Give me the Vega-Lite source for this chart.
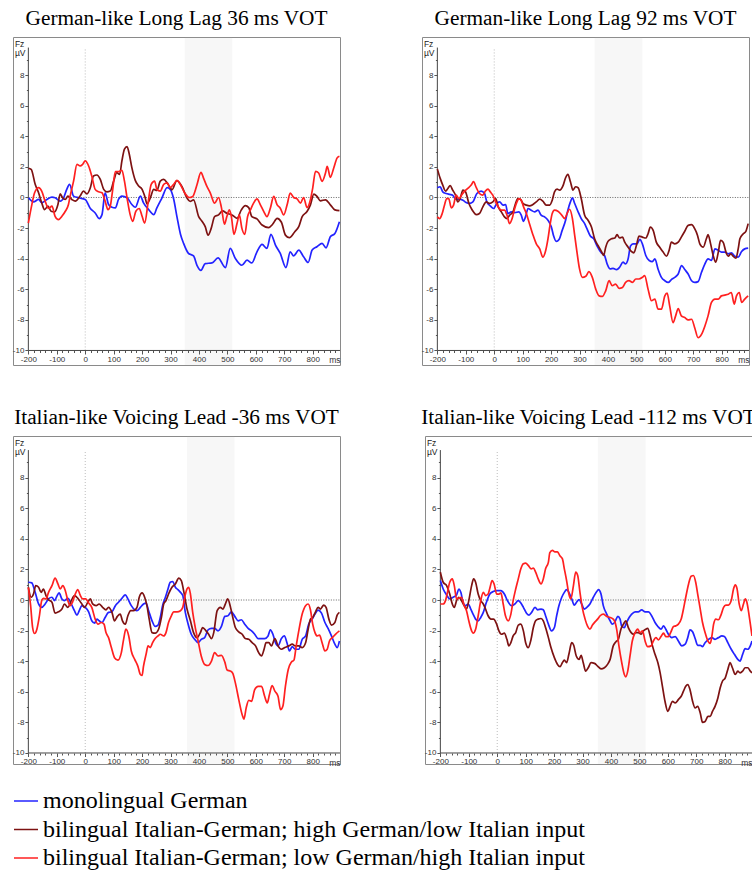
{
"$schema": "https://vega.github.io/schema/vega-lite/v6.json",
"usermeta": {"embedOptions": {"actions": false}},
"padding": {"left": 11, "top": 7, "right": 0, "bottom": 0},
"data": {"values": [
{"p":1,"g":"m","t":-200,"v":0},{"p":1,"g":"m","t":-182,"v":-0.29},{"p":1,"g":"m","t":-164,"v":-0.13},{"p":1,"g":"m","t":-153,"v":-0.35},{"p":1,"g":"m","t":-135,"v":-0.13},{"p":1,"g":"m","t":-117,"v":0.02},{"p":1,"g":"m","t":-106,"v":-0.02},{"p":1,"g":"m","t":-88,"v":-0.24},{"p":1,"g":"m","t":-76,"v":-0.02},{"p":1,"g":"m","t":-65,"v":0.53},{"p":1,"g":"m","t":-55,"v":0.86},{"p":1,"g":"m","t":-41,"v":0.09},{"p":1,"g":"m","t":-23,"v":-0.02},{"p":1,"g":"m","t":0,"v":-0.13},{"p":1,"g":"m","t":18,"v":-0.72},{"p":1,"g":"m","t":35,"v":-1.01},{"p":1,"g":"m","t":49,"v":-1.38},{"p":1,"g":"m","t":59,"v":-1.12},{"p":1,"g":"m","t":70,"v":0.31},{"p":1,"g":"m","t":82,"v":-0.46},{"p":1,"g":"m","t":94,"v":-0.64},{"p":1,"g":"m","t":106,"v":-0.68},{"p":1,"g":"m","t":117,"v":-0.13},{"p":1,"g":"m","t":129,"v":0.09},{"p":1,"g":"m","t":147,"v":-0.02},{"p":1,"g":"m","t":164,"v":-0.46},{"p":1,"g":"m","t":176,"v":-0.64},{"p":1,"g":"m","t":194,"v":0.09},{"p":1,"g":"m","t":205,"v":-0.35},{"p":1,"g":"m","t":223,"v":-0.79},{"p":1,"g":"m","t":241,"v":-1.12},{"p":1,"g":"m","t":252,"v":-0.68},{"p":1,"g":"m","t":270,"v":-0.02},{"p":1,"g":"m","t":288,"v":0.64},{"p":1,"g":"m","t":299,"v":0.53},{"p":1,"g":"m","t":311,"v":-0.1},{"p":1,"g":"m","t":323,"v":-1.3},{"p":1,"g":"m","t":335,"v":-2.4},{"p":1,"g":"m","t":346,"v":-3.0},{"p":1,"g":"m","t":363,"v":-3.65},{"p":1,"g":"m","t":381,"v":-3.82},{"p":1,"g":"m","t":393,"v":-4.43},{"p":1,"g":"m","t":407,"v":-4.76},{"p":1,"g":"m","t":422,"v":-4.32},{"p":1,"g":"m","t":446,"v":-4.28},{"p":1,"g":"m","t":467,"v":-3.95},{"p":1,"g":"m","t":493,"v":-4.58},{"p":1,"g":"m","t":510,"v":-3.33},{"p":1,"g":"m","t":528,"v":-3.99},{"p":1,"g":"m","t":551,"v":-4.43},{"p":1,"g":"m","t":569,"v":-4.1},{"p":1,"g":"m","t":586,"v":-4.28},{"p":1,"g":"m","t":604,"v":-3.55},{"p":1,"g":"m","t":622,"v":-3.07},{"p":1,"g":"m","t":639,"v":-3.33},{"p":1,"g":"m","t":653,"v":-2.41},{"p":1,"g":"m","t":669,"v":-3.11},{"p":1,"g":"m","t":686,"v":-3.66},{"p":1,"g":"m","t":706,"v":-4.58},{"p":1,"g":"m","t":721,"v":-3.55},{"p":1,"g":"m","t":733,"v":-3.82},{"p":1,"g":"m","t":751,"v":-3.44},{"p":1,"g":"m","t":768,"v":-3.88},{"p":1,"g":"m","t":784,"v":-4.25},{"p":1,"g":"m","t":798,"v":-3.44},{"p":1,"g":"m","t":815,"v":-3.22},{"p":1,"g":"m","t":833,"v":-3.0},{"p":1,"g":"m","t":847,"v":-3.29},{"p":1,"g":"m","t":862,"v":-2.57},{"p":1,"g":"m","t":878,"v":-2.35},{"p":1,"g":"m","t":894,"v":-1.58},
{"p":1,"g":"h","t":-200,"v":1.91},{"p":1,"g":"h","t":-190,"v":1.84},{"p":1,"g":"h","t":-176,"v":0.86},{"p":1,"g":"h","t":-164,"v":0.31},{"p":1,"g":"h","t":-153,"v":-0.35},{"p":1,"g":"h","t":-143,"v":-0.79},{"p":1,"g":"h","t":-131,"v":-0.57},{"p":1,"g":"h","t":-120,"v":-0.9},{"p":1,"g":"h","t":-108,"v":-0.94},{"p":1,"g":"h","t":-96,"v":-0.46},{"p":1,"g":"h","t":-88,"v":0.24},{"p":1,"g":"h","t":-80,"v":-0.02},{"p":1,"g":"h","t":-70,"v":-0.13},{"p":1,"g":"h","t":-61,"v":0.09},{"p":1,"g":"h","t":-47,"v":-0.13},{"p":1,"g":"h","t":-35,"v":-0.24},{"p":1,"g":"h","t":-18,"v":0.09},{"p":1,"g":"h","t":-6,"v":0.42},{"p":1,"g":"h","t":6,"v":0.24},{"p":1,"g":"h","t":18,"v":0.64},{"p":1,"g":"h","t":29,"v":1.4},{"p":1,"g":"h","t":41,"v":1.47},{"p":1,"g":"h","t":53,"v":1.18},{"p":1,"g":"h","t":65,"v":0.53},{"p":1,"g":"h","t":76,"v":0.37},{"p":1,"g":"h","t":88,"v":0.42},{"p":1,"g":"h","t":100,"v":1.07},{"p":1,"g":"h","t":111,"v":1.62},{"p":1,"g":"h","t":121,"v":1.51},{"p":1,"g":"h","t":129,"v":2.39},{"p":1,"g":"h","t":138,"v":3.16},{"p":1,"g":"h","t":147,"v":3.33},{"p":1,"g":"h","t":155,"v":2.83},{"p":1,"g":"h","t":164,"v":1.95},{"p":1,"g":"h","t":176,"v":1.12},{"p":1,"g":"h","t":188,"v":0.75},{"p":1,"g":"h","t":200,"v":0.53},{"p":1,"g":"h","t":211,"v":-0.02},{"p":1,"g":"h","t":217,"v":-0.42},{"p":1,"g":"h","t":229,"v":-0.02},{"p":1,"g":"h","t":241,"v":0.53},{"p":1,"g":"h","t":252,"v":0.46},{"p":1,"g":"h","t":264,"v":1.07},{"p":1,"g":"h","t":276,"v":1.18},{"p":1,"g":"h","t":288,"v":0.96},{"p":1,"g":"h","t":299,"v":0.64},{"p":1,"g":"h","t":305,"v":0.5},{"p":1,"g":"h","t":322,"v":1.1},{"p":1,"g":"h","t":340,"v":0.72},{"p":1,"g":"h","t":358,"v":-0.04},{"p":1,"g":"h","t":369,"v":-0.26},{"p":1,"g":"h","t":381,"v":-0.15},{"p":1,"g":"h","t":399,"v":-1.25},{"p":1,"g":"h","t":410,"v":-1.54},{"p":1,"g":"h","t":422,"v":-1.91},{"p":1,"g":"h","t":432,"v":-2.46},{"p":1,"g":"h","t":443,"v":-2.02},{"p":1,"g":"h","t":455,"v":-1.25},{"p":1,"g":"h","t":469,"v":-1.14},{"p":1,"g":"h","t":483,"v":-0.88},{"p":1,"g":"h","t":498,"v":-1.03},{"p":1,"g":"h","t":516,"v":-1.14},{"p":1,"g":"h","t":534,"v":-1.36},{"p":1,"g":"h","t":549,"v":-0.81},{"p":1,"g":"h","t":563,"v":-0.53},{"p":1,"g":"h","t":575,"v":-0.66},{"p":1,"g":"h","t":586,"v":-1.25},{"p":1,"g":"h","t":604,"v":-1.4},{"p":1,"g":"h","t":622,"v":-1.8},{"p":1,"g":"h","t":645,"v":-1.97},{"p":1,"g":"h","t":659,"v":-1.75},{"p":1,"g":"h","t":675,"v":-1.36},{"p":1,"g":"h","t":690,"v":-1.62},{"p":1,"g":"h","t":704,"v":-2.46},{"p":1,"g":"h","t":718,"v":-2.63},{"p":1,"g":"h","t":737,"v":-2.24},{"p":1,"g":"h","t":751,"v":-1.91},{"p":1,"g":"h","t":763,"v":-1.25},{"p":1,"g":"h","t":780,"v":-0.92},{"p":1,"g":"h","t":792,"v":-0.48},{"p":1,"g":"h","t":804,"v":0.22},{"p":1,"g":"h","t":815,"v":0.07},{"p":1,"g":"h","t":827,"v":-0.22},{"p":1,"g":"h","t":845,"v":-0.15},{"p":1,"g":"h","t":862,"v":-0.48},{"p":1,"g":"h","t":878,"v":-0.81},{"p":1,"g":"h","t":894,"v":-0.86},
{"p":1,"g":"l","t":-200,"v":-1.67},{"p":1,"g":"l","t":-190,"v":-0.68},{"p":1,"g":"l","t":-178,"v":0.31},{"p":1,"g":"l","t":-164,"v":0.64},{"p":1,"g":"l","t":-153,"v":0.42},{"p":1,"g":"l","t":-141,"v":-0.24},{"p":1,"g":"l","t":-129,"v":-0.72},{"p":1,"g":"l","t":-117,"v":-0.57},{"p":1,"g":"l","t":-106,"v":-1.23},{"p":1,"g":"l","t":-94,"v":-1.45},{"p":1,"g":"l","t":-82,"v":-1.23},{"p":1,"g":"l","t":-70,"v":-0.9},{"p":1,"g":"l","t":-59,"v":-0.46},{"p":1,"g":"l","t":-53,"v":0.09},{"p":1,"g":"l","t":-41,"v":1.07},{"p":1,"g":"l","t":-29,"v":2.17},{"p":1,"g":"l","t":-18,"v":2.06},{"p":1,"g":"l","t":-9,"v":2.17},{"p":1,"g":"l","t":0,"v":2.39},{"p":1,"g":"l","t":12,"v":2.06},{"p":1,"g":"l","t":23,"v":1.4},{"p":1,"g":"l","t":35,"v":0.53},{"p":1,"g":"l","t":47,"v":0.37},{"p":1,"g":"l","t":59,"v":0.31},{"p":1,"g":"l","t":70,"v":-0.24},{"p":1,"g":"l","t":80,"v":-0.79},{"p":1,"g":"l","t":88,"v":-0.57},{"p":1,"g":"l","t":96,"v":0.42},{"p":1,"g":"l","t":106,"v":1.69},{"p":1,"g":"l","t":117,"v":1.69},{"p":1,"g":"l","t":129,"v":1.78},{"p":1,"g":"l","t":138,"v":1.07},{"p":1,"g":"l","t":149,"v":-0.24},{"p":1,"g":"l","t":158,"v":-1.12},{"p":1,"g":"l","t":167,"v":-1.56},{"p":1,"g":"l","t":178,"v":-0.9},{"p":1,"g":"l","t":190,"v":-0.72},{"p":1,"g":"l","t":200,"v":-1.23},{"p":1,"g":"l","t":209,"v":-1.67},{"p":1,"g":"l","t":221,"v":-0.35},{"p":1,"g":"l","t":232,"v":0.86},{"p":1,"g":"l","t":244,"v":1.07},{"p":1,"g":"l","t":252,"v":0.53},{"p":1,"g":"l","t":264,"v":0.42},{"p":1,"g":"l","t":276,"v":0.86},{"p":1,"g":"l","t":288,"v":0.96},{"p":1,"g":"l","t":299,"v":0.64},{"p":1,"g":"l","t":311,"v":0.86},{"p":1,"g":"l","t":323,"v":1.12},{"p":1,"g":"l","t":334,"v":0.86},{"p":1,"g":"l","t":350,"v":0.3},{"p":1,"g":"l","t":366,"v":0},{"p":1,"g":"l","t":378,"v":0.07},{"p":1,"g":"l","t":393,"v":0.83},{"p":1,"g":"l","t":407,"v":1.64},{"p":1,"g":"l","t":416,"v":1.27},{"p":1,"g":"l","t":428,"v":0.72},{"p":1,"g":"l","t":440,"v":0.29},{"p":1,"g":"l","t":455,"v":-0.37},{"p":1,"g":"l","t":469,"v":0},{"p":1,"g":"l","t":479,"v":-0.66},{"p":1,"g":"l","t":490,"v":-1.75},{"p":1,"g":"l","t":498,"v":-1.25},{"p":1,"g":"l","t":507,"v":-0.81},{"p":1,"g":"l","t":514,"v":-1.25},{"p":1,"g":"l","t":523,"v":-2.41},{"p":1,"g":"l","t":534,"v":-1.69},{"p":1,"g":"l","t":542,"v":-1.14},{"p":1,"g":"l","t":551,"v":-2.02},{"p":1,"g":"l","t":561,"v":-2.41},{"p":1,"g":"l","t":571,"v":-1.25},{"p":1,"g":"l","t":581,"v":-0.81},{"p":1,"g":"l","t":592,"v":-0.37},{"p":1,"g":"l","t":604,"v":-0.09},{"p":1,"g":"l","t":616,"v":-0.48},{"p":1,"g":"l","t":628,"v":-0.92},{"p":1,"g":"l","t":639,"v":-1.25},{"p":1,"g":"l","t":651,"v":-0.7},{"p":1,"g":"l","t":663,"v":0.07},{"p":1,"g":"l","t":675,"v":-0.48},{"p":1,"g":"l","t":686,"v":-0.7},{"p":1,"g":"l","t":698,"v":-1.14},{"p":1,"g":"l","t":710,"v":-0.48},{"p":1,"g":"l","t":721,"v":0.29},{"p":1,"g":"l","t":733,"v":0},{"p":1,"g":"l","t":745,"v":-0.09},{"p":1,"g":"l","t":757,"v":-0.37},{"p":1,"g":"l","t":768,"v":0},{"p":1,"g":"l","t":780,"v":-0.66},{"p":1,"g":"l","t":792,"v":-0.15},{"p":1,"g":"l","t":800,"v":0.61},{"p":1,"g":"l","t":810,"v":1.71},{"p":1,"g":"l","t":821,"v":1.6},{"p":1,"g":"l","t":833,"v":1.05},{"p":1,"g":"l","t":845,"v":1.6},{"p":1,"g":"l","t":851,"v":2.04},{"p":1,"g":"l","t":862,"v":1.32},{"p":1,"g":"l","t":874,"v":1.93},{"p":1,"g":"l","t":886,"v":2.59},{"p":1,"g":"l","t":894,"v":2.7},
{"p":2,"g":"m","t":-200,"v":0.64},{"p":2,"g":"m","t":-190,"v":0.7},{"p":2,"g":"m","t":-181,"v":0.37},{"p":2,"g":"m","t":-169,"v":0.26},{"p":2,"g":"m","t":-157,"v":0.2},{"p":2,"g":"m","t":-146,"v":0.15},{"p":2,"g":"m","t":-136,"v":-0.11},{"p":2,"g":"m","t":-124,"v":-0.11},{"p":2,"g":"m","t":-110,"v":-0.18},{"p":2,"g":"m","t":-99,"v":-0.33},{"p":2,"g":"m","t":-87,"v":-0.39},{"p":2,"g":"m","t":-75,"v":-0.29},{"p":2,"g":"m","t":-61,"v":0.26},{"p":2,"g":"m","t":-46,"v":0.42},{"p":2,"g":"m","t":-34,"v":0.26},{"p":2,"g":"m","t":-26,"v":-0.29},{"p":2,"g":"m","t":-14,"v":-0.55},{"p":2,"g":"m","t":-2,"v":-0.72},{"p":2,"g":"m","t":9,"v":-0.39},{"p":2,"g":"m","t":19,"v":-0.29},{"p":2,"g":"m","t":31,"v":-0.5},{"p":2,"g":"m","t":40,"v":-0.46},{"p":2,"g":"m","t":48,"v":-1.05},{"p":2,"g":"m","t":60,"v":-0.94},{"p":2,"g":"m","t":72,"v":-0.99},{"p":2,"g":"m","t":87,"v":-0.94},{"p":2,"g":"m","t":95,"v":-1.16},{"p":2,"g":"m","t":103,"v":-1.56},{"p":2,"g":"m","t":110,"v":-1.27},{"p":2,"g":"m","t":119,"v":-0.72},{"p":2,"g":"m","t":130,"v":-0.83},{"p":2,"g":"m","t":142,"v":-0.94},{"p":2,"g":"m","t":154,"v":-0.83},{"p":2,"g":"m","t":165,"v":-1.16},{"p":2,"g":"m","t":177,"v":-1.27},{"p":2,"g":"m","t":189,"v":-1.49},{"p":2,"g":"m","t":201,"v":-1.93},{"p":2,"g":"m","t":209,"v":-2.52},{"p":2,"g":"m","t":218,"v":-2.87},{"p":2,"g":"m","t":228,"v":-2.74},{"p":2,"g":"m","t":239,"v":-2.15},{"p":2,"g":"m","t":251,"v":-1.49},{"p":2,"g":"m","t":259,"v":-0.83},{"p":2,"g":"m","t":268,"v":-0.29},{"p":2,"g":"m","t":275,"v":-0.02},{"p":2,"g":"m","t":283,"v":-0.39},{"p":2,"g":"m","t":295,"v":-0.94},{"p":2,"g":"m","t":306,"v":-1.38},{"p":2,"g":"m","t":318,"v":-1.71},{"p":2,"g":"m","t":326,"v":-2.04},{"p":2,"g":"m","t":338,"v":-2.52},{"p":2,"g":"m","t":350,"v":-2.7},{"p":2,"g":"m","t":361,"v":-3.14},{"p":2,"g":"m","t":377,"v":-3.62},{"p":2,"g":"m","t":388,"v":-3.79},{"p":2,"g":"m","t":397,"v":-4.34},{"p":2,"g":"m","t":408,"v":-4.67},{"p":2,"g":"m","t":418,"v":-4.63},{"p":2,"g":"m","t":430,"v":-4.71},{"p":2,"g":"m","t":441,"v":-4.56},{"p":2,"g":"m","t":453,"v":-4.23},{"p":2,"g":"m","t":462,"v":-4.34},{"p":2,"g":"m","t":471,"v":-4.01},{"p":2,"g":"m","t":479,"v":-3.18},{"p":2,"g":"m","t":488,"v":-3.03},{"p":2,"g":"m","t":502,"v":-3.03},{"p":2,"g":"m","t":512,"v":-2.74},{"p":2,"g":"m","t":521,"v":-3.03},{"p":2,"g":"m","t":533,"v":-3.79},{"p":2,"g":"m","t":545,"v":-4.12},{"p":2,"g":"m","t":556,"v":-4.19},{"p":2,"g":"m","t":565,"v":-4.01},{"p":2,"g":"m","t":576,"v":-4.67},{"p":2,"g":"m","t":588,"v":-5.22},{"p":2,"g":"m","t":600,"v":-5.44},{"p":2,"g":"m","t":612,"v":-5.55},{"p":2,"g":"m","t":623,"v":-5.37},{"p":2,"g":"m","t":635,"v":-5.22},{"p":2,"g":"m","t":647,"v":-5.0},{"p":2,"g":"m","t":659,"v":-4.45},{"p":2,"g":"m","t":670,"v":-4.71},{"p":2,"g":"m","t":682,"v":-5.0},{"p":2,"g":"m","t":694,"v":-5.44},{"p":2,"g":"m","t":705,"v":-5.55},{"p":2,"g":"m","t":717,"v":-5.5},{"p":2,"g":"m","t":729,"v":-4.89},{"p":2,"g":"m","t":741,"v":-4.34},{"p":2,"g":"m","t":752,"v":-4.01},{"p":2,"g":"m","t":764,"v":-4.12},{"p":2,"g":"m","t":776,"v":-3.36},{"p":2,"g":"m","t":788,"v":-3.46},{"p":2,"g":"m","t":799,"v":-3.57},{"p":2,"g":"m","t":811,"v":-3.57},{"p":2,"g":"m","t":823,"v":-3.68},{"p":2,"g":"m","t":834,"v":-3.62},{"p":2,"g":"m","t":846,"v":-3.84},{"p":2,"g":"m","t":858,"v":-3.9},{"p":2,"g":"m","t":870,"v":-3.53},{"p":2,"g":"m","t":881,"v":-3.36},{"p":2,"g":"m","t":893,"v":-3.31},
{"p":2,"g":"h","t":-200,"v":1.86},{"p":2,"g":"h","t":-190,"v":1.25},{"p":2,"g":"h","t":-181,"v":0.81},{"p":2,"g":"h","t":-171,"v":0.42},{"p":2,"g":"h","t":-163,"v":0.59},{"p":2,"g":"h","t":-155,"v":0.77},{"p":2,"g":"h","t":-146,"v":0.48},{"p":2,"g":"h","t":-136,"v":0.15},{"p":2,"g":"h","t":-128,"v":-0.29},{"p":2,"g":"h","t":-120,"v":-0.07},{"p":2,"g":"h","t":-110,"v":0.48},{"p":2,"g":"h","t":-101,"v":0.37},{"p":2,"g":"h","t":-89,"v":-0.39},{"p":2,"g":"h","t":-77,"v":-0.83},{"p":2,"g":"h","t":-63,"v":-1.12},{"p":2,"g":"h","t":-52,"v":-1.05},{"p":2,"g":"h","t":-40,"v":-0.61},{"p":2,"g":"h","t":-28,"v":-0.29},{"p":2,"g":"h","t":-16,"v":-0.39},{"p":2,"g":"h","t":-5,"v":-0.29},{"p":2,"g":"h","t":5,"v":-0.07},{"p":2,"g":"h","t":14,"v":-0.61},{"p":2,"g":"h","t":25,"v":-0.94},{"p":2,"g":"h","t":36,"v":-1.27},{"p":2,"g":"h","t":45,"v":-1.38},{"p":2,"g":"h","t":54,"v":-1.16},{"p":2,"g":"h","t":66,"v":-0.94},{"p":2,"g":"h","t":75,"v":-0.39},{"p":2,"g":"h","t":83,"v":-0.07},{"p":2,"g":"h","t":92,"v":-0.11},{"p":2,"g":"h","t":101,"v":-0.39},{"p":2,"g":"h","t":113,"v":-0.5},{"p":2,"g":"h","t":124,"v":-0.55},{"p":2,"g":"h","t":136,"v":-0.46},{"p":2,"g":"h","t":148,"v":-0.29},{"p":2,"g":"h","t":160,"v":-0.11},{"p":2,"g":"h","t":171,"v":-0.24},{"p":2,"g":"h","t":183,"v":-0.5},{"p":2,"g":"h","t":195,"v":-0.5},{"p":2,"g":"h","t":204,"v":-0.18},{"p":2,"g":"h","t":212,"v":0.37},{"p":2,"g":"h","t":221,"v":0.55},{"p":2,"g":"h","t":230,"v":0.48},{"p":2,"g":"h","t":242,"v":0.77},{"p":2,"g":"h","t":251,"v":1.29},{"p":2,"g":"h","t":259,"v":1.51},{"p":2,"g":"h","t":268,"v":1.03},{"p":2,"g":"h","t":277,"v":0.48},{"p":2,"g":"h","t":286,"v":0.7},{"p":2,"g":"h","t":295,"v":0.64},{"p":2,"g":"h","t":306,"v":-0.07},{"p":2,"g":"h","t":318,"v":-1.16},{"p":2,"g":"h","t":330,"v":-1.49},{"p":2,"g":"h","t":342,"v":-1.93},{"p":2,"g":"h","t":353,"v":-2.7},{"p":2,"g":"h","t":365,"v":-3.14},{"p":2,"g":"h","t":377,"v":-3.53},{"p":2,"g":"h","t":385,"v":-3.79},{"p":2,"g":"h","t":392,"v":-3.25},{"p":2,"g":"h","t":400,"v":-2.87},{"p":2,"g":"h","t":412,"v":-2.7},{"p":2,"g":"h","t":424,"v":-2.65},{"p":2,"g":"h","t":432,"v":-2.43},{"p":2,"g":"h","t":441,"v":-2.65},{"p":2,"g":"h","t":451,"v":-2.59},{"p":2,"g":"h","t":459,"v":-2.92},{"p":2,"g":"h","t":471,"v":-3.25},{"p":2,"g":"h","t":482,"v":-3.53},{"p":2,"g":"h","t":491,"v":-3.62},{"p":2,"g":"h","t":500,"v":-3.14},{"p":2,"g":"h","t":509,"v":-2.52},{"p":2,"g":"h","t":521,"v":-2.59},{"p":2,"g":"h","t":533,"v":-2.65},{"p":2,"g":"h","t":541,"v":-2.37},{"p":2,"g":"h","t":549,"v":-1.93},{"p":2,"g":"h","t":559,"v":-2.15},{"p":2,"g":"h","t":570,"v":-2.92},{"p":2,"g":"h","t":582,"v":-3.25},{"p":2,"g":"h","t":594,"v":-3.57},{"p":2,"g":"h","t":606,"v":-3.84},{"p":2,"g":"h","t":615,"v":-3.46},{"p":2,"g":"h","t":623,"v":-2.92},{"p":2,"g":"h","t":635,"v":-3.03},{"p":2,"g":"h","t":647,"v":-2.92},{"p":2,"g":"h","t":658,"v":-2.59},{"p":2,"g":"h","t":670,"v":-2.21},{"p":2,"g":"h","t":682,"v":-1.82},{"p":2,"g":"h","t":694,"v":-1.78},{"p":2,"g":"h","t":705,"v":-2.04},{"p":2,"g":"h","t":715,"v":-2.48},{"p":2,"g":"h","t":723,"v":-3.03},{"p":2,"g":"h","t":735,"v":-3.25},{"p":2,"g":"h","t":746,"v":-2.7},{"p":2,"g":"h","t":752,"v":-2.43},{"p":2,"g":"h","t":761,"v":-3.03},{"p":2,"g":"h","t":770,"v":-3.79},{"p":2,"g":"h","t":779,"v":-4.23},{"p":2,"g":"h","t":788,"v":-3.57},{"p":2,"g":"h","t":796,"v":-2.81},{"p":2,"g":"h","t":805,"v":-2.92},{"p":2,"g":"h","t":815,"v":-3.57},{"p":2,"g":"h","t":823,"v":-3.84},{"p":2,"g":"h","t":832,"v":-3.68},{"p":2,"g":"h","t":840,"v":-3.84},{"p":2,"g":"h","t":850,"v":-3.97},{"p":2,"g":"h","t":858,"v":-3.36},{"p":2,"g":"h","t":864,"v":-2.7},{"p":2,"g":"h","t":876,"v":-2.37},{"p":2,"g":"h","t":885,"v":-2.21},{"p":2,"g":"h","t":893,"v":-1.71},
{"p":2,"g":"l","t":-200,"v":-1.27},{"p":2,"g":"l","t":-192,"v":-1.38},{"p":2,"g":"l","t":-183,"v":-1.05},{"p":2,"g":"l","t":-175,"v":-0.5},{"p":2,"g":"l","t":-167,"v":-0.07},{"p":2,"g":"l","t":-160,"v":-0.07},{"p":2,"g":"l","t":-151,"v":-0.68},{"p":2,"g":"l","t":-143,"v":-0.5},{"p":2,"g":"l","t":-134,"v":0.15},{"p":2,"g":"l","t":-124,"v":-0.07},{"p":2,"g":"l","t":-115,"v":0.15},{"p":2,"g":"l","t":-104,"v":0.42},{"p":2,"g":"l","t":-93,"v":0.59},{"p":2,"g":"l","t":-81,"v":0.81},{"p":2,"g":"l","t":-73,"v":1.03},{"p":2,"g":"l","t":-63,"v":0.64},{"p":2,"g":"l","t":-52,"v":0.26},{"p":2,"g":"l","t":-40,"v":0.15},{"p":2,"g":"l","t":-31,"v":0.42},{"p":2,"g":"l","t":-22,"v":0.55},{"p":2,"g":"l","t":-14,"v":0.37},{"p":2,"g":"l","t":-5,"v":0.15},{"p":2,"g":"l","t":5,"v":-0.29},{"p":2,"g":"l","t":14,"v":-0.61},{"p":2,"g":"l","t":25,"v":-0.83},{"p":2,"g":"l","t":36,"v":-0.83},{"p":2,"g":"l","t":45,"v":-1.16},{"p":2,"g":"l","t":54,"v":-1.71},{"p":2,"g":"l","t":63,"v":-1.38},{"p":2,"g":"l","t":72,"v":-0.72},{"p":2,"g":"l","t":80,"v":-0.29},{"p":2,"g":"l","t":87,"v":-0.07},{"p":2,"g":"l","t":95,"v":-0.18},{"p":2,"g":"l","t":103,"v":-0.61},{"p":2,"g":"l","t":113,"v":-1.05},{"p":2,"g":"l","t":124,"v":-1.71},{"p":2,"g":"l","t":136,"v":-2.43},{"p":2,"g":"l","t":148,"v":-3.03},{"p":2,"g":"l","t":160,"v":-3.36},{"p":2,"g":"l","t":171,"v":-3.9},{"p":2,"g":"l","t":181,"v":-3.46},{"p":2,"g":"l","t":189,"v":-2.7},{"p":2,"g":"l","t":197,"v":-1.71},{"p":2,"g":"l","t":204,"v":-1.05},{"p":2,"g":"l","t":212,"v":-0.83},{"p":2,"g":"l","t":224,"v":-0.9},{"p":2,"g":"l","t":236,"v":-1.12},{"p":2,"g":"l","t":248,"v":-1.38},{"p":2,"g":"l","t":256,"v":-1.05},{"p":2,"g":"l","t":265,"v":-0.77},{"p":2,"g":"l","t":275,"v":-1.38},{"p":2,"g":"l","t":283,"v":-2.48},{"p":2,"g":"l","t":291,"v":-3.57},{"p":2,"g":"l","t":300,"v":-4.67},{"p":2,"g":"l","t":310,"v":-5.22},{"p":2,"g":"l","t":322,"v":-5.15},{"p":2,"g":"l","t":333,"v":-4.85},{"p":2,"g":"l","t":345,"v":-5.22},{"p":2,"g":"l","t":357,"v":-5.99},{"p":2,"g":"l","t":369,"v":-6.43},{"p":2,"g":"l","t":380,"v":-6.47},{"p":2,"g":"l","t":392,"v":-6.1},{"p":2,"g":"l","t":404,"v":-5.44},{"p":2,"g":"l","t":415,"v":-5.77},{"p":2,"g":"l","t":427,"v":-5.66},{"p":2,"g":"l","t":439,"v":-5.94},{"p":2,"g":"l","t":451,"v":-5.88},{"p":2,"g":"l","t":462,"v":-5.55},{"p":2,"g":"l","t":474,"v":-5.44},{"p":2,"g":"l","t":486,"v":-5.55},{"p":2,"g":"l","t":498,"v":-5.33},{"p":2,"g":"l","t":509,"v":-5.33},{"p":2,"g":"l","t":521,"v":-5.22},{"p":2,"g":"l","t":529,"v":-5.11},{"p":2,"g":"l","t":541,"v":-5.99},{"p":2,"g":"l","t":553,"v":-6.75},{"p":2,"g":"l","t":565,"v":-6.64},{"p":2,"g":"l","t":576,"v":-7.3},{"p":2,"g":"l","t":588,"v":-7.3},{"p":2,"g":"l","t":600,"v":-6.43},{"p":2,"g":"l","t":608,"v":-6.25},{"p":2,"g":"l","t":617,"v":-7.08},{"p":2,"g":"l","t":629,"v":-8.18},{"p":2,"g":"l","t":638,"v":-7.74},{"p":2,"g":"l","t":647,"v":-7.26},{"p":2,"g":"l","t":658,"v":-7.74},{"p":2,"g":"l","t":670,"v":-7.85},{"p":2,"g":"l","t":682,"v":-8.0},{"p":2,"g":"l","t":694,"v":-7.96},{"p":2,"g":"l","t":705,"v":-8.51},{"p":2,"g":"l","t":717,"v":-9.17},{"p":2,"g":"l","t":729,"v":-8.95},{"p":2,"g":"l","t":741,"v":-8.4},{"p":2,"g":"l","t":752,"v":-7.74},{"p":2,"g":"l","t":764,"v":-6.86},{"p":2,"g":"l","t":776,"v":-6.64},{"p":2,"g":"l","t":788,"v":-6.64},{"p":2,"g":"l","t":799,"v":-6.43},{"p":2,"g":"l","t":811,"v":-6.38},{"p":2,"g":"l","t":823,"v":-6.32},{"p":2,"g":"l","t":834,"v":-6.21},{"p":2,"g":"l","t":844,"v":-6.97},{"p":2,"g":"l","t":852,"v":-6.43},{"p":2,"g":"l","t":862,"v":-6.21},{"p":2,"g":"l","t":870,"v":-6.86},{"p":2,"g":"l","t":881,"v":-6.64},{"p":2,"g":"l","t":893,"v":-6.43},
{"p":3,"g":"m","t":-200,"v":1.16},{"p":3,"g":"m","t":-188,"v":1.12},{"p":3,"g":"m","t":-176,"v":0.5},{"p":3,"g":"m","t":-164,"v":-0.26},{"p":3,"g":"m","t":-153,"v":-0.48},{"p":3,"g":"m","t":-141,"v":-0.26},{"p":3,"g":"m","t":-129,"v":0.07},{"p":3,"g":"m","t":-117,"v":0.18},{"p":3,"g":"m","t":-108,"v":-0.04},{"p":3,"g":"m","t":-100,"v":0.24},{"p":3,"g":"m","t":-92,"v":0.46},{"p":3,"g":"m","t":-82,"v":0.07},{"p":3,"g":"m","t":-73,"v":-0.04},{"p":3,"g":"m","t":-61,"v":0.11},{"p":3,"g":"m","t":-49,"v":-0.26},{"p":3,"g":"m","t":-38,"v":-0.7},{"p":3,"g":"m","t":-29,"v":-0.99},{"p":3,"g":"m","t":-21,"v":-0.7},{"p":3,"g":"m","t":-12,"v":-0.37},{"p":3,"g":"m","t":0,"v":-0.48},{"p":3,"g":"m","t":12,"v":-0.77},{"p":3,"g":"m","t":23,"v":-1.36},{"p":3,"g":"m","t":33,"v":-1.51},{"p":3,"g":"m","t":41,"v":-1.25},{"p":3,"g":"m","t":49,"v":-1.36},{"p":3,"g":"m","t":59,"v":-1.47},{"p":3,"g":"m","t":70,"v":-1.14},{"p":3,"g":"m","t":82,"v":-0.81},{"p":3,"g":"m","t":94,"v":-0.77},{"p":3,"g":"m","t":106,"v":-0.37},{"p":3,"g":"m","t":117,"v":-0.15},{"p":3,"g":"m","t":129,"v":0.11},{"p":3,"g":"m","t":141,"v":0.33},{"p":3,"g":"m","t":150,"v":0.07},{"p":3,"g":"m","t":162,"v":-0.37},{"p":3,"g":"m","t":174,"v":-0.64},{"p":3,"g":"m","t":182,"v":-0.7},{"p":3,"g":"m","t":194,"v":-0.48},{"p":3,"g":"m","t":205,"v":-0.26},{"p":3,"g":"m","t":214,"v":-0.2},{"p":3,"g":"m","t":223,"v":-0.7},{"p":3,"g":"m","t":235,"v":-1.36},{"p":3,"g":"m","t":246,"v":-1.73},{"p":3,"g":"m","t":256,"v":-1.64},{"p":3,"g":"m","t":264,"v":-1.14},{"p":3,"g":"m","t":272,"v":-0.37},{"p":3,"g":"m","t":282,"v":0.18},{"p":3,"g":"m","t":291,"v":0.72},{"p":3,"g":"m","t":299,"v":1.16},{"p":3,"g":"m","t":308,"v":1.21},{"p":3,"g":"m","t":317,"v":0.83},{"p":3,"g":"m","t":326,"v":0.68},{"p":3,"g":"m","t":335,"v":0.5},{"p":3,"g":"m","t":343,"v":0.29},{"p":3,"g":"m","t":352,"v":-0.81},{"p":3,"g":"m","t":362,"v":-1.58},{"p":3,"g":"m","t":373,"v":-2.24},{"p":3,"g":"m","t":385,"v":-2.57},{"p":3,"g":"m","t":397,"v":-2.79},{"p":3,"g":"m","t":408,"v":-2.57},{"p":3,"g":"m","t":420,"v":-2.46},{"p":3,"g":"m","t":432,"v":-1.95},{"p":3,"g":"m","t":444,"v":-1.86},{"p":3,"g":"m","t":455,"v":-1.86},{"p":3,"g":"m","t":467,"v":-2.02},{"p":3,"g":"m","t":479,"v":-1.73},{"p":3,"g":"m","t":491,"v":-1.07},{"p":3,"g":"m","t":502,"v":-1.03},{"p":3,"g":"m","t":514,"v":-0.77},{"p":3,"g":"m","t":526,"v":-1.07},{"p":3,"g":"m","t":538,"v":-1.36},{"p":3,"g":"m","t":549,"v":-1.29},{"p":3,"g":"m","t":561,"v":-1.58},{"p":3,"g":"m","t":573,"v":-1.86},{"p":3,"g":"m","t":585,"v":-2.02},{"p":3,"g":"m","t":596,"v":-2.24},{"p":3,"g":"m","t":608,"v":-2.52},{"p":3,"g":"m","t":620,"v":-2.52},{"p":3,"g":"m","t":631,"v":-2.52},{"p":3,"g":"m","t":643,"v":-2.35},{"p":3,"g":"m","t":651,"v":-1.95},{"p":3,"g":"m","t":660,"v":-2.24},{"p":3,"g":"m","t":669,"v":-2.79},{"p":3,"g":"m","t":678,"v":-3.0},{"p":3,"g":"m","t":690,"v":-2.52},{"p":3,"g":"m","t":700,"v":-2.35},{"p":3,"g":"m","t":710,"v":-2.83},{"p":3,"g":"m","t":718,"v":-3.33},{"p":3,"g":"m","t":728,"v":-3.05},{"p":3,"g":"m","t":739,"v":-3.22},{"p":3,"g":"m","t":751,"v":-3.22},{"p":3,"g":"m","t":763,"v":-2.57},{"p":3,"g":"m","t":775,"v":-2.35},{"p":3,"g":"m","t":786,"v":-1.58},{"p":3,"g":"m","t":798,"v":-1.25},{"p":3,"g":"m","t":808,"v":-0.92},{"p":3,"g":"m","t":819,"v":-0.66},{"p":3,"g":"m","t":831,"v":-0.86},{"p":3,"g":"m","t":843,"v":-1.47},{"p":3,"g":"m","t":854,"v":-1.86},{"p":3,"g":"m","t":866,"v":-2.35},{"p":3,"g":"m","t":878,"v":-2.89},{"p":3,"g":"m","t":886,"v":-3.11},{"p":3,"g":"m","t":894,"v":-2.68},
{"p":3,"g":"h","t":-200,"v":0.83},{"p":3,"g":"h","t":-190,"v":0.18},{"p":3,"g":"h","t":-182,"v":0.39},{"p":3,"g":"h","t":-174,"v":0.94},{"p":3,"g":"h","t":-164,"v":0.83},{"p":3,"g":"h","t":-155,"v":0.5},{"p":3,"g":"h","t":-147,"v":0.72},{"p":3,"g":"h","t":-138,"v":0.29},{"p":3,"g":"h","t":-129,"v":0.02},{"p":3,"g":"h","t":-117,"v":-0.15},{"p":3,"g":"h","t":-106,"v":-0.86},{"p":3,"g":"h","t":-94,"v":-0.77},{"p":3,"g":"h","t":-82,"v":-0.59},{"p":3,"g":"h","t":-73,"v":-0.26},{"p":3,"g":"h","t":-61,"v":-0.48},{"p":3,"g":"h","t":-49,"v":-0.04},{"p":3,"g":"h","t":-38,"v":0.29},{"p":3,"g":"h","t":-26,"v":0.11},{"p":3,"g":"h","t":-14,"v":-0.2},{"p":3,"g":"h","t":-2,"v":-0.48},{"p":3,"g":"h","t":9,"v":-0.15},{"p":3,"g":"h","t":18,"v":0.07},{"p":3,"g":"h","t":26,"v":-0.26},{"p":3,"g":"h","t":38,"v":-0.37},{"p":3,"g":"h","t":49,"v":-0.26},{"p":3,"g":"h","t":61,"v":-0.48},{"p":3,"g":"h","t":73,"v":-0.64},{"p":3,"g":"h","t":82,"v":-0.48},{"p":3,"g":"h","t":94,"v":-0.81},{"p":3,"g":"h","t":103,"v":-1.36},{"p":3,"g":"h","t":113,"v":-1.07},{"p":3,"g":"h","t":123,"v":-0.92},{"p":3,"g":"h","t":131,"v":-1.36},{"p":3,"g":"h","t":141,"v":-1.58},{"p":3,"g":"h","t":150,"v":-1.03},{"p":3,"g":"h","t":160,"v":-0.7},{"p":3,"g":"h","t":170,"v":-0.7},{"p":3,"g":"h","t":182,"v":-0.48},{"p":3,"g":"h","t":190,"v":0.18},{"p":3,"g":"h","t":200,"v":0.46},{"p":3,"g":"h","t":209,"v":0.18},{"p":3,"g":"h","t":217,"v":-0.37},{"p":3,"g":"h","t":225,"v":-1.25},{"p":3,"g":"h","t":235,"v":-2.13},{"p":3,"g":"h","t":246,"v":-2.17},{"p":3,"g":"h","t":258,"v":-1.91},{"p":3,"g":"h","t":268,"v":-1.14},{"p":3,"g":"h","t":276,"v":-0.26},{"p":3,"g":"h","t":284,"v":-0.04},{"p":3,"g":"h","t":293,"v":0.39},{"p":3,"g":"h","t":305,"v":0.83},{"p":3,"g":"h","t":317,"v":1.05},{"p":3,"g":"h","t":329,"v":1.43},{"p":3,"g":"h","t":338,"v":1.27},{"p":3,"g":"h","t":346,"v":0.61},{"p":3,"g":"h","t":358,"v":-0.59},{"p":3,"g":"h","t":370,"v":-1.36},{"p":3,"g":"h","t":381,"v":-2.13},{"p":3,"g":"h","t":393,"v":-2.46},{"p":3,"g":"h","t":405,"v":-2.13},{"p":3,"g":"h","t":413,"v":-1.8},{"p":3,"g":"h","t":425,"v":-2.02},{"p":3,"g":"h","t":434,"v":-2.24},{"p":3,"g":"h","t":444,"v":-2.52},{"p":3,"g":"h","t":452,"v":-2.13},{"p":3,"g":"h","t":464,"v":-0.7},{"p":3,"g":"h","t":475,"v":-0.48},{"p":3,"g":"h","t":484,"v":-0.59},{"p":3,"g":"h","t":493,"v":-0.26},{"p":3,"g":"h","t":501,"v":0.07},{"p":3,"g":"h","t":511,"v":-0.48},{"p":3,"g":"h","t":519,"v":-1.14},{"p":3,"g":"h","t":528,"v":-1.8},{"p":3,"g":"h","t":540,"v":-2.08},{"p":3,"g":"h","t":552,"v":-2.24},{"p":3,"g":"h","t":563,"v":-2.52},{"p":3,"g":"h","t":575,"v":-2.57},{"p":3,"g":"h","t":587,"v":-2.79},{"p":3,"g":"h","t":599,"v":-3.0},{"p":3,"g":"h","t":610,"v":-3.44},{"p":3,"g":"h","t":620,"v":-3.66},{"p":3,"g":"h","t":629,"v":-3.22},{"p":3,"g":"h","t":636,"v":-2.79},{"p":3,"g":"h","t":646,"v":-2.79},{"p":3,"g":"h","t":655,"v":-3.0},{"p":3,"g":"h","t":667,"v":-2.52},{"p":3,"g":"h","t":678,"v":-3.0},{"p":3,"g":"h","t":690,"v":-3.22},{"p":3,"g":"h","t":702,"v":-3.11},{"p":3,"g":"h","t":716,"v":-3.0},{"p":3,"g":"h","t":728,"v":-2.89},{"p":3,"g":"h","t":739,"v":-3.0},{"p":3,"g":"h","t":751,"v":-3.0},{"p":3,"g":"h","t":763,"v":-3.11},{"p":3,"g":"h","t":775,"v":-2.79},{"p":3,"g":"h","t":784,"v":-1.91},{"p":3,"g":"h","t":792,"v":-1.25},{"p":3,"g":"h","t":800,"v":-1.14},{"p":3,"g":"h","t":810,"v":-0.77},{"p":3,"g":"h","t":819,"v":-0.48},{"p":3,"g":"h","t":827,"v":-0.59},{"p":3,"g":"h","t":839,"v":-0.33},{"p":3,"g":"h","t":847,"v":-0.48},{"p":3,"g":"h","t":857,"v":-1.25},{"p":3,"g":"h","t":866,"v":-1.64},{"p":3,"g":"h","t":878,"v":-1.47},{"p":3,"g":"h","t":886,"v":-0.99},{"p":3,"g":"h","t":894,"v":-0.81},
{"p":3,"g":"l","t":-200,"v":0.83},{"p":3,"g":"l","t":-192,"v":-0.37},{"p":3,"g":"l","t":-185,"v":-1.8},{"p":3,"g":"l","t":-178,"v":-2.19},{"p":3,"g":"l","t":-170,"v":-1.91},{"p":3,"g":"l","t":-162,"v":-1.14},{"p":3,"g":"l","t":-153,"v":-0.04},{"p":3,"g":"l","t":-147,"v":0.11},{"p":3,"g":"l","t":-138,"v":0.07},{"p":3,"g":"l","t":-129,"v":0.5},{"p":3,"g":"l","t":-117,"v":0.94},{"p":3,"g":"l","t":-106,"v":1.43},{"p":3,"g":"l","t":-96,"v":1.05},{"p":3,"g":"l","t":-88,"v":0.72},{"p":3,"g":"l","t":-79,"v":0.94},{"p":3,"g":"l","t":-70,"v":0.61},{"p":3,"g":"l","t":-61,"v":-0.04},{"p":3,"g":"l","t":-53,"v":-0.37},{"p":3,"g":"l","t":-45,"v":-0.15},{"p":3,"g":"l","t":-35,"v":0.39},{"p":3,"g":"l","t":-26,"v":0.68},{"p":3,"g":"l","t":-18,"v":0.33},{"p":3,"g":"l","t":-9,"v":0.07},{"p":3,"g":"l","t":2,"v":0.07},{"p":3,"g":"l","t":12,"v":-0.2},{"p":3,"g":"l","t":23,"v":-0.48},{"p":3,"g":"l","t":35,"v":-1.25},{"p":3,"g":"l","t":45,"v":-1.58},{"p":3,"g":"l","t":56,"v":-1.47},{"p":3,"g":"l","t":66,"v":-1.58},{"p":3,"g":"l","t":73,"v":-2.13},{"p":3,"g":"l","t":82,"v":-2.46},{"p":3,"g":"l","t":92,"v":-3.11},{"p":3,"g":"l","t":103,"v":-3.77},{"p":3,"g":"l","t":115,"v":-3.93},{"p":3,"g":"l","t":127,"v":-3.44},{"p":3,"g":"l","t":135,"v":-2.57},{"p":3,"g":"l","t":143,"v":-1.91},{"p":3,"g":"l","t":153,"v":-2.35},{"p":3,"g":"l","t":162,"v":-3.33},{"p":3,"g":"l","t":174,"v":-3.88},{"p":3,"g":"l","t":185,"v":-4.32},{"p":3,"g":"l","t":194,"v":-4.87},{"p":3,"g":"l","t":200,"v":-4.93},{"p":3,"g":"l","t":205,"v":-4.32},{"p":3,"g":"l","t":214,"v":-3.55},{"p":3,"g":"l","t":221,"v":-3.0},{"p":3,"g":"l","t":229,"v":-3.11},{"p":3,"g":"l","t":237,"v":-2.79},{"p":3,"g":"l","t":246,"v":-2.52},{"p":3,"g":"l","t":256,"v":-2.35},{"p":3,"g":"l","t":264,"v":-2.24},{"p":3,"g":"l","t":276,"v":-2.35},{"p":3,"g":"l","t":284,"v":-2.13},{"p":3,"g":"l","t":293,"v":-1.47},{"p":3,"g":"l","t":303,"v":-1.03},{"p":3,"g":"l","t":311,"v":-0.77},{"p":3,"g":"l","t":323,"v":-0.77},{"p":3,"g":"l","t":335,"v":-0.7},{"p":3,"g":"l","t":343,"v":-0.48},{"p":3,"g":"l","t":350,"v":0.18},{"p":3,"g":"l","t":358,"v":0.72},{"p":3,"g":"l","t":364,"v":0.83},{"p":3,"g":"l","t":370,"v":0.39},{"p":3,"g":"l","t":378,"v":-0.81},{"p":3,"g":"l","t":387,"v":-1.8},{"p":3,"g":"l","t":397,"v":-2.68},{"p":3,"g":"l","t":408,"v":-3.66},{"p":3,"g":"l","t":420,"v":-4.21},{"p":3,"g":"l","t":432,"v":-4.28},{"p":3,"g":"l","t":444,"v":-3.99},{"p":3,"g":"l","t":455,"v":-3.44},{"p":3,"g":"l","t":467,"v":-3.66},{"p":3,"g":"l","t":479,"v":-3.62},{"p":3,"g":"l","t":491,"v":-4.06},{"p":3,"g":"l","t":499,"v":-4.58},{"p":3,"g":"l","t":511,"v":-4.65},{"p":3,"g":"l","t":519,"v":-4.8},{"p":3,"g":"l","t":528,"v":-5.42},{"p":3,"g":"l","t":540,"v":-6.51},{"p":3,"g":"l","t":552,"v":-7.5},{"p":3,"g":"l","t":558,"v":-7.79},{"p":3,"g":"l","t":566,"v":-7.06},{"p":3,"g":"l","t":575,"v":-6.56},{"p":3,"g":"l","t":585,"v":-6.62},{"p":3,"g":"l","t":596,"v":-5.86},{"p":3,"g":"l","t":608,"v":-5.64},{"p":3,"g":"l","t":620,"v":-5.64},{"p":3,"g":"l","t":631,"v":-6.29},{"p":3,"g":"l","t":640,"v":-6.73},{"p":3,"g":"l","t":648,"v":-6.18},{"p":3,"g":"l","t":657,"v":-5.59},{"p":3,"g":"l","t":667,"v":-5.96},{"p":3,"g":"l","t":678,"v":-6.29},{"p":3,"g":"l","t":687,"v":-7.17},{"p":3,"g":"l","t":695,"v":-6.95},{"p":3,"g":"l","t":704,"v":-5.64},{"p":3,"g":"l","t":714,"v":-4.54},{"p":3,"g":"l","t":725,"v":-4.06},{"p":3,"g":"l","t":734,"v":-3.93},{"p":3,"g":"l","t":742,"v":-3.0},{"p":3,"g":"l","t":751,"v":-2.02},{"p":3,"g":"l","t":763,"v":-0.92},{"p":3,"g":"l","t":775,"v":-0.37},{"p":3,"g":"l","t":784,"v":-0.26},{"p":3,"g":"l","t":792,"v":-0.64},{"p":3,"g":"l","t":800,"v":-1.58},{"p":3,"g":"l","t":808,"v":-2.13},{"p":3,"g":"l","t":816,"v":-2.35},{"p":3,"g":"l","t":824,"v":-2.3},{"p":3,"g":"l","t":833,"v":-2.79},{"p":3,"g":"l","t":843,"v":-3.33},{"p":3,"g":"l","t":851,"v":-3.22},{"p":3,"g":"l","t":859,"v":-2.68},{"p":3,"g":"l","t":869,"v":-2.46},{"p":3,"g":"l","t":880,"v":-2.24},{"p":3,"g":"l","t":894,"v":-2.02},
{"p":4,"g":"m","t":-200,"v":1.27},{"p":4,"g":"m","t":-190,"v":0.72},{"p":4,"g":"m","t":-178,"v":0.33},{"p":4,"g":"m","t":-167,"v":0.07},{"p":4,"g":"m","t":-155,"v":0.18},{"p":4,"g":"m","t":-143,"v":0.33},{"p":4,"g":"m","t":-135,"v":0.72},{"p":4,"g":"m","t":-128,"v":0.5},{"p":4,"g":"m","t":-120,"v":-0.15},{"p":4,"g":"m","t":-112,"v":-0.37},{"p":4,"g":"m","t":-102,"v":-0.26},{"p":4,"g":"m","t":-93,"v":-0.59},{"p":4,"g":"m","t":-85,"v":-0.92},{"p":4,"g":"m","t":-76,"v":-1.25},{"p":4,"g":"m","t":-67,"v":-1.36},{"p":4,"g":"m","t":-58,"v":-1.14},{"p":4,"g":"m","t":-49,"v":-0.81},{"p":4,"g":"m","t":-38,"v":-0.15},{"p":4,"g":"m","t":-26,"v":0.39},{"p":4,"g":"m","t":-14,"v":0.55},{"p":4,"g":"m","t":-2,"v":0.61},{"p":4,"g":"m","t":13,"v":0.61},{"p":4,"g":"m","t":25,"v":0.39},{"p":4,"g":"m","t":36,"v":-0.04},{"p":4,"g":"m","t":50,"v":-0.37},{"p":4,"g":"m","t":62,"v":-0.26},{"p":4,"g":"m","t":74,"v":-0.04},{"p":4,"g":"m","t":83,"v":-0.2},{"p":4,"g":"m","t":92,"v":-0.48},{"p":4,"g":"m","t":103,"v":-0.86},{"p":4,"g":"m","t":112,"v":-0.99},{"p":4,"g":"m","t":121,"v":-0.81},{"p":4,"g":"m","t":133,"v":-0.48},{"p":4,"g":"m","t":142,"v":-0.64},{"p":4,"g":"m","t":154,"v":-0.59},{"p":4,"g":"m","t":162,"v":-0.64},{"p":4,"g":"m","t":170,"v":-1.03},{"p":4,"g":"m","t":180,"v":-1.58},{"p":4,"g":"m","t":191,"v":-2.02},{"p":4,"g":"m","t":201,"v":-1.8},{"p":4,"g":"m","t":209,"v":-1.03},{"p":4,"g":"m","t":217,"v":-0.37},{"p":4,"g":"m","t":227,"v":0.18},{"p":4,"g":"m","t":236,"v":0.5},{"p":4,"g":"m","t":244,"v":0.68},{"p":4,"g":"m","t":252,"v":0.5},{"p":4,"g":"m","t":262,"v":0.07},{"p":4,"g":"m","t":271,"v":-0.33},{"p":4,"g":"m","t":279,"v":-0.15},{"p":4,"g":"m","t":288,"v":0.02},{"p":4,"g":"m","t":297,"v":-0.26},{"p":4,"g":"m","t":306,"v":-0.59},{"p":4,"g":"m","t":315,"v":-0.48},{"p":4,"g":"m","t":326,"v":-0.26},{"p":4,"g":"m","t":338,"v":0.18},{"p":4,"g":"m","t":350,"v":0.55},{"p":4,"g":"m","t":356,"v":0.68},{"p":4,"g":"m","t":365,"v":0.39},{"p":4,"g":"m","t":373,"v":-0.37},{"p":4,"g":"m","t":385,"v":-0.92},{"p":4,"g":"m","t":397,"v":-1.36},{"p":4,"g":"m","t":405,"v":-1.58},{"p":4,"g":"m","t":414,"v":-1.43},{"p":4,"g":"m","t":424,"v":-1.07},{"p":4,"g":"m","t":432,"v":-1.25},{"p":4,"g":"m","t":438,"v":-1.73},{"p":4,"g":"m","t":447,"v":-1.8},{"p":4,"g":"m","t":455,"v":-1.47},{"p":4,"g":"m","t":464,"v":-1.14},{"p":4,"g":"m","t":473,"v":-0.92},{"p":4,"g":"m","t":485,"v":-0.77},{"p":4,"g":"m","t":496,"v":-0.77},{"p":4,"g":"m","t":508,"v":-0.64},{"p":4,"g":"m","t":520,"v":-0.77},{"p":4,"g":"m","t":532,"v":-0.77},{"p":4,"g":"m","t":543,"v":-1.03},{"p":4,"g":"m","t":555,"v":-1.47},{"p":4,"g":"m","t":565,"v":-1.73},{"p":4,"g":"m","t":576,"v":-1.91},{"p":4,"g":"m","t":585,"v":-1.69},{"p":4,"g":"m","t":593,"v":-1.91},{"p":4,"g":"m","t":602,"v":-2.24},{"p":4,"g":"m","t":614,"v":-2.46},{"p":4,"g":"m","t":626,"v":-2.39},{"p":4,"g":"m","t":637,"v":-2.68},{"p":4,"g":"m","t":649,"v":-3.0},{"p":4,"g":"m","t":661,"v":-2.89},{"p":4,"g":"m","t":670,"v":-2.46},{"p":4,"g":"m","t":678,"v":-1.95},{"p":4,"g":"m","t":687,"v":-2.08},{"p":4,"g":"m","t":696,"v":-2.52},{"p":4,"g":"m","t":705,"v":-2.96},{"p":4,"g":"m","t":714,"v":-2.96},{"p":4,"g":"m","t":722,"v":-3.05},{"p":4,"g":"m","t":731,"v":-2.79},{"p":4,"g":"m","t":743,"v":-2.57},{"p":4,"g":"m","t":755,"v":-2.46},{"p":4,"g":"m","t":766,"v":-2.57},{"p":4,"g":"m","t":778,"v":-2.46},{"p":4,"g":"m","t":790,"v":-2.35},{"p":4,"g":"m","t":799,"v":-2.39},{"p":4,"g":"m","t":811,"v":-2.79},{"p":4,"g":"m","t":823,"v":-3.22},{"p":4,"g":"m","t":834,"v":-3.55},{"p":4,"g":"m","t":846,"v":-3.88},{"p":4,"g":"m","t":854,"v":-3.99},{"p":4,"g":"m","t":863,"v":-3.55},{"p":4,"g":"m","t":872,"v":-3.18},{"p":4,"g":"m","t":881,"v":-3.22},{"p":4,"g":"m","t":890,"v":-3.0},{"p":4,"g":"m","t":896,"v":-2.68},
{"p":4,"g":"h","t":-200,"v":1.82},{"p":4,"g":"h","t":-190,"v":1.16},{"p":4,"g":"h","t":-178,"v":0.94},{"p":4,"g":"h","t":-167,"v":0.39},{"p":4,"g":"h","t":-158,"v":-0.26},{"p":4,"g":"h","t":-151,"v":-0.48},{"p":4,"g":"h","t":-143,"v":-0.04},{"p":4,"g":"h","t":-135,"v":0.18},{"p":4,"g":"h","t":-126,"v":-0.04},{"p":4,"g":"h","t":-116,"v":-0.37},{"p":4,"g":"h","t":-108,"v":-0.59},{"p":4,"g":"h","t":-100,"v":-0.04},{"p":4,"g":"h","t":-90,"v":0.94},{"p":4,"g":"h","t":-83,"v":1.38},{"p":4,"g":"h","t":-76,"v":1.16},{"p":4,"g":"h","t":-67,"v":0.39},{"p":4,"g":"h","t":-58,"v":-0.04},{"p":4,"g":"h","t":-49,"v":-0.26},{"p":4,"g":"h","t":-41,"v":-0.59},{"p":4,"g":"h","t":-32,"v":-1.03},{"p":4,"g":"h","t":-22,"v":-1.25},{"p":4,"g":"h","t":-13,"v":-1.25},{"p":4,"g":"h","t":-2,"v":-1.58},{"p":4,"g":"h","t":6,"v":-2.02},{"p":4,"g":"h","t":15,"v":-2.24},{"p":4,"g":"h","t":25,"v":-2.17},{"p":4,"g":"h","t":34,"v":-2.57},{"p":4,"g":"h","t":41,"v":-3.0},{"p":4,"g":"h","t":48,"v":-2.79},{"p":4,"g":"h","t":56,"v":-2.35},{"p":4,"g":"h","t":65,"v":-2.13},{"p":4,"g":"h","t":74,"v":-1.64},{"p":4,"g":"h","t":83,"v":-1.58},{"p":4,"g":"h","t":92,"v":-2.02},{"p":4,"g":"h","t":100,"v":-2.79},{"p":4,"g":"h","t":109,"v":-3.11},{"p":4,"g":"h","t":119,"v":-2.57},{"p":4,"g":"h","t":127,"v":-1.8},{"p":4,"g":"h","t":135,"v":-1.36},{"p":4,"g":"h","t":144,"v":-1.25},{"p":4,"g":"h","t":154,"v":-1.21},{"p":4,"g":"h","t":162,"v":-1.36},{"p":4,"g":"h","t":170,"v":-1.8},{"p":4,"g":"h","t":180,"v":-2.46},{"p":4,"g":"h","t":189,"v":-3.11},{"p":4,"g":"h","t":201,"v":-3.77},{"p":4,"g":"h","t":212,"v":-4.21},{"p":4,"g":"h","t":221,"v":-4.36},{"p":4,"g":"h","t":229,"v":-4.1},{"p":4,"g":"h","t":236,"v":-3.93},{"p":4,"g":"h","t":244,"v":-4.1},{"p":4,"g":"h","t":252,"v":-3.55},{"p":4,"g":"h","t":262,"v":-2.79},{"p":4,"g":"h","t":269,"v":-2.96},{"p":4,"g":"h","t":278,"v":-3.66},{"p":4,"g":"h","t":288,"v":-3.88},{"p":4,"g":"h","t":295,"v":-3.62},{"p":4,"g":"h","t":303,"v":-4.14},{"p":4,"g":"h","t":311,"v":-4.65},{"p":4,"g":"h","t":320,"v":-4.43},{"p":4,"g":"h","t":330,"v":-4.1},{"p":4,"g":"h","t":342,"v":-4.14},{"p":4,"g":"h","t":353,"v":-4.32},{"p":4,"g":"h","t":365,"v":-4.5},{"p":4,"g":"h","t":377,"v":-4.43},{"p":4,"g":"h","t":388,"v":-4.21},{"p":4,"g":"h","t":397,"v":-3.88},{"p":4,"g":"h","t":408,"v":-3.0},{"p":4,"g":"h","t":417,"v":-2.74},{"p":4,"g":"h","t":426,"v":-2.57},{"p":4,"g":"h","t":435,"v":-1.91},{"p":4,"g":"h","t":444,"v":-1.58},{"p":4,"g":"h","t":452,"v":-1.36},{"p":4,"g":"h","t":461,"v":-1.8},{"p":4,"g":"h","t":471,"v":-2.13},{"p":4,"g":"h","t":479,"v":-2.24},{"p":4,"g":"h","t":487,"v":-2.13},{"p":4,"g":"h","t":496,"v":-2.13},{"p":4,"g":"h","t":506,"v":-2.24},{"p":4,"g":"h","t":514,"v":-2.02},{"p":4,"g":"h","t":522,"v":-1.91},{"p":4,"g":"h","t":529,"v":-1.86},{"p":4,"g":"h","t":538,"v":-2.35},{"p":4,"g":"h","t":546,"v":-3.0},{"p":4,"g":"h","t":555,"v":-3.55},{"p":4,"g":"h","t":565,"v":-4.1},{"p":4,"g":"h","t":573,"v":-4.76},{"p":4,"g":"h","t":581,"v":-5.64},{"p":4,"g":"h","t":590,"v":-6.62},{"p":4,"g":"h","t":600,"v":-7.28},{"p":4,"g":"h","t":608,"v":-6.95},{"p":4,"g":"h","t":616,"v":-6.62},{"p":4,"g":"h","t":626,"v":-6.73},{"p":4,"g":"h","t":637,"v":-6.51},{"p":4,"g":"h","t":647,"v":-6.29},{"p":4,"g":"h","t":655,"v":-5.96},{"p":4,"g":"h","t":663,"v":-5.64},{"p":4,"g":"h","t":670,"v":-5.53},{"p":4,"g":"h","t":678,"v":-5.86},{"p":4,"g":"h","t":687,"v":-6.62},{"p":4,"g":"h","t":696,"v":-7.06},{"p":4,"g":"h","t":705,"v":-6.95},{"p":4,"g":"h","t":714,"v":-7.39},{"p":4,"g":"h","t":722,"v":-8.0},{"p":4,"g":"h","t":731,"v":-7.94},{"p":4,"g":"h","t":741,"v":-7.61},{"p":4,"g":"h","t":749,"v":-7.61},{"p":4,"g":"h","t":757,"v":-7.28},{"p":4,"g":"h","t":766,"v":-6.95},{"p":4,"g":"h","t":776,"v":-6.4},{"p":4,"g":"h","t":784,"v":-5.75},{"p":4,"g":"h","t":792,"v":-5.31},{"p":4,"g":"h","t":802,"v":-5.09},{"p":4,"g":"h","t":811,"v":-4.54},{"p":4,"g":"h","t":819,"v":-4.1},{"p":4,"g":"h","t":827,"v":-4.43},{"p":4,"g":"h","t":837,"v":-4.87},{"p":4,"g":"h","t":846,"v":-4.65},{"p":4,"g":"h","t":854,"v":-4.76},{"p":4,"g":"h","t":863,"v":-4.65},{"p":4,"g":"h","t":872,"v":-4.43},{"p":4,"g":"h","t":881,"v":-4.43},{"p":4,"g":"h","t":890,"v":-4.65},{"p":4,"g":"h","t":896,"v":-4.76},
{"p":4,"g":"l","t":-200,"v":-0.26},{"p":4,"g":"l","t":-190,"v":-0.26},{"p":4,"g":"l","t":-182,"v":-0.04},{"p":4,"g":"l","t":-175,"v":0.5},{"p":4,"g":"l","t":-167,"v":1.16},{"p":4,"g":"l","t":-158,"v":1.38},{"p":4,"g":"l","t":-151,"v":0.94},{"p":4,"g":"l","t":-143,"v":0.07},{"p":4,"g":"l","t":-135,"v":0.11},{"p":4,"g":"l","t":-126,"v":0.18},{"p":4,"g":"l","t":-116,"v":-0.37},{"p":4,"g":"l","t":-108,"v":-0.7},{"p":4,"g":"l","t":-100,"v":-1.36},{"p":4,"g":"l","t":-90,"v":-2.02},{"p":4,"g":"l","t":-85,"v":-2.17},{"p":4,"g":"l","t":-76,"v":-1.91},{"p":4,"g":"l","t":-67,"v":-1.03},{"p":4,"g":"l","t":-58,"v":-0.04},{"p":4,"g":"l","t":-49,"v":0.5},{"p":4,"g":"l","t":-41,"v":0.29},{"p":4,"g":"l","t":-32,"v":0.39},{"p":4,"g":"l","t":-26,"v":0.77},{"p":4,"g":"l","t":-18,"v":1.27},{"p":4,"g":"l","t":-11,"v":1.05},{"p":4,"g":"l","t":-2,"v":0.39},{"p":4,"g":"l","t":6,"v":0.39},{"p":4,"g":"l","t":13,"v":0.46},{"p":4,"g":"l","t":21,"v":-0.26},{"p":4,"g":"l","t":29,"v":-1.03},{"p":4,"g":"l","t":39,"v":-1.36},{"p":4,"g":"l","t":48,"v":-0.92},{"p":4,"g":"l","t":56,"v":-0.04},{"p":4,"g":"l","t":65,"v":0.72},{"p":4,"g":"l","t":74,"v":1.38},{"p":4,"g":"l","t":83,"v":2.04},{"p":4,"g":"l","t":92,"v":2.37},{"p":4,"g":"l","t":100,"v":2.41},{"p":4,"g":"l","t":109,"v":2.26},{"p":4,"g":"l","t":119,"v":2.04},{"p":4,"g":"l","t":127,"v":2.08},{"p":4,"g":"l","t":135,"v":1.82},{"p":4,"g":"l","t":144,"v":1.38},{"p":4,"g":"l","t":154,"v":1.05},{"p":4,"g":"l","t":162,"v":1.38},{"p":4,"g":"l","t":170,"v":2.04},{"p":4,"g":"l","t":180,"v":2.48},{"p":4,"g":"l","t":185,"v":3.09},{"p":4,"g":"l","t":194,"v":3.25},{"p":4,"g":"l","t":203,"v":3.14},{"p":4,"g":"l","t":212,"v":3.14},{"p":4,"g":"l","t":221,"v":2.87},{"p":4,"g":"l","t":229,"v":2.7},{"p":4,"g":"l","t":236,"v":2.04},{"p":4,"g":"l","t":244,"v":1.27},{"p":4,"g":"l","t":252,"v":0.39},{"p":4,"g":"l","t":259,"v":0.07},{"p":4,"g":"l","t":268,"v":0.94},{"p":4,"g":"l","t":276,"v":1.82},{"p":4,"g":"l","t":283,"v":1.6},{"p":4,"g":"l","t":291,"v":0.5},{"p":4,"g":"l","t":299,"v":-0.48},{"p":4,"g":"l","t":309,"v":-1.25},{"p":4,"g":"l","t":318,"v":-1.73},{"p":4,"g":"l","t":326,"v":-1.91},{"p":4,"g":"l","t":335,"v":-1.64},{"p":4,"g":"l","t":344,"v":-1.43},{"p":4,"g":"l","t":353,"v":-1.25},{"p":4,"g":"l","t":362,"v":-1.03},{"p":4,"g":"l","t":373,"v":-0.92},{"p":4,"g":"l","t":385,"v":-1.07},{"p":4,"g":"l","t":397,"v":-1.14},{"p":4,"g":"l","t":408,"v":-1.25},{"p":4,"g":"l","t":414,"v":-1.43},{"p":4,"g":"l","t":420,"v":-1.91},{"p":4,"g":"l","t":428,"v":-3.0},{"p":4,"g":"l","t":438,"v":-4.1},{"p":4,"g":"l","t":447,"v":-4.87},{"p":4,"g":"l","t":452,"v":-5.02},{"p":4,"g":"l","t":459,"v":-4.65},{"p":4,"g":"l","t":467,"v":-3.66},{"p":4,"g":"l","t":475,"v":-2.68},{"p":4,"g":"l","t":485,"v":-2.13},{"p":4,"g":"l","t":494,"v":-1.91},{"p":4,"g":"l","t":502,"v":-2.13},{"p":4,"g":"l","t":511,"v":-2.02},{"p":4,"g":"l","t":520,"v":-2.68},{"p":4,"g":"l","t":529,"v":-3.05},{"p":4,"g":"l","t":541,"v":-3.0},{"p":4,"g":"l","t":549,"v":-2.68},{"p":4,"g":"l","t":558,"v":-2.46},{"p":4,"g":"l","t":567,"v":-2.61},{"p":4,"g":"l","t":576,"v":-2.39},{"p":4,"g":"l","t":585,"v":-2.17},{"p":4,"g":"l","t":593,"v":-2.39},{"p":4,"g":"l","t":602,"v":-2.39},{"p":4,"g":"l","t":611,"v":-2.08},{"p":4,"g":"l","t":620,"v":-1.73},{"p":4,"g":"l","t":628,"v":-1.69},{"p":4,"g":"l","t":637,"v":-1.58},{"p":4,"g":"l","t":647,"v":-1.25},{"p":4,"g":"l","t":655,"v":-0.59},{"p":4,"g":"l","t":663,"v":0.18},{"p":4,"g":"l","t":673,"v":1.05},{"p":4,"g":"l","t":682,"v":1.56},{"p":4,"g":"l","t":690,"v":1.6},{"p":4,"g":"l","t":698,"v":1.16},{"p":4,"g":"l","t":705,"v":0.39},{"p":4,"g":"l","t":714,"v":-0.59},{"p":4,"g":"l","t":722,"v":-1.47},{"p":4,"g":"l","t":731,"v":-2.13},{"p":4,"g":"l","t":741,"v":-2.68},{"p":4,"g":"l","t":749,"v":-2.83},{"p":4,"g":"l","t":755,"v":-2.35},{"p":4,"g":"l","t":761,"v":-1.58},{"p":4,"g":"l","t":769,"v":-1.25},{"p":4,"g":"l","t":778,"v":-1.29},{"p":4,"g":"l","t":788,"v":-0.92},{"p":4,"g":"l","t":796,"v":-0.48},{"p":4,"g":"l","t":804,"v":-0.33},{"p":4,"g":"l","t":813,"v":-0.33},{"p":4,"g":"l","t":823,"v":-0.04},{"p":4,"g":"l","t":831,"v":0.72},{"p":4,"g":"l","t":837,"v":0.99},{"p":4,"g":"l","t":843,"v":0.77},{"p":4,"g":"l","t":851,"v":-0.26},{"p":4,"g":"l","t":858,"v":-0.7},{"p":4,"g":"l","t":866,"v":-0.26},{"p":4,"g":"l","t":872,"v":0.07},{"p":4,"g":"l","t":878,"v":-0.15},{"p":4,"g":"l","t":886,"v":-1.03},{"p":4,"g":"l","t":896,"v":-2.35}
]},
"spacing": 40,
"vconcat": [
{"spacing": 76, "hconcat": [
{"title": "German-like Long Lag 36 ms VOT", "width": 327, "height": 328, "resolve": {"axis": {"x": "independent", "y": "independent"}}, "layer": [
{"data": {"values": [{}]}, "mark": {"type": "rect", "color": "#b0b0b0", "opacity": 0.1}, "encoding": {"x": {"datum": 350, "type": "quantitative", "axis": {"orient": "bottom", "offset": -14.5, "zindex": 1, "values": [-180,-160,-140,-120,-80,-60,-40,-20,20,40,60,80,120,140,160,180,220,240,260,280,320,340,360,380,420,440,460,480,520,540,560,580,620,640,660,680,720,740,760,780,820,840,860,880], "labels": false, "tickSize": 2, "title": null}}, "x2": {"datum": 517}}},
{"data": {"values": [{}]}, "mark": {"type": "rule", "color": "#bbbbbb", "strokeDash": [1, 2], "strokeWidth": 1}, "encoding": {"x": {"datum": 0, "type": "quantitative", "axis": null}, "y": {"datum": -10, "type": "quantitative", "axis": null}, "y2": {"datum": 9.8}}},
{"data": {"values": [{}]}, "mark": {"type": "rule", "color": "#666666", "strokeDash": [1, 1.5], "strokeWidth": 1}, "encoding": {"x": {"datum": -200, "type": "quantitative", "axis": null}, "x2": {"datum": 896}, "y": {"datum": 0, "type": "quantitative", "axis": null}}},
{"data": {"values": [{}]}, "mark": {"type": "rule", "color": "#444444", "strokeWidth": 1}, "encoding": {"x": {"datum": -200, "type": "quantitative", "axis": null}, "y": {"datum": -10, "type": "quantitative", "axis": {"orient": "left", "offset": -15.4, "zindex": 1, "values": [-9,-7,-5,-3,-1,1,3,5,7,9], "labels": false, "tickSize": 2, "title": null}}, "y2": {"datum": 9.8}}},
{"data": {"values": [{}]}, "mark": {"type": "rule", "color": "#444444", "strokeWidth": 1}, "encoding": {"x": {"datum": -200, "type": "quantitative", "axis": null}, "x2": {"datum": 896}, "y": {"datum": -10, "type": "quantitative", "axis": null}}},
{"transform": [{"filter": "datum.p == 1"}], "mark": {"type": "line", "strokeWidth": 1.7, "interpolate": "monotone"}, "encoding": {
"x": {"field": "t", "type": "quantitative", "scale": {"domain": [-254, 896], "nice": false, "zero": false}, "axis": {"orient": "bottom", "offset": -14.5, "zindex": 1, "values": [-200,-100,0,100,200,300,400,500,600,700,800], "labelExpr": "'' + datum.value", "tickSize": 3.5, "title": "ms", "titleX": 327, "titleY": 5, "titleAlign": "right", "titleBaseline": "top", "titleFont": "Liberation Sans", "titleFontSize": 8.5, "titleFontWeight": "normal", "titleColor": "#333333"}},
"y": {"field": "v", "type": "quantitative", "scale": {"domain": [-10.95, 10.49], "nice": false, "zero": false}, "axis": {"orient": "left", "offset": -15.4, "zindex": 1, "values": [-10,-8,-6,-4,-2,0,2,4,6,8], "labelExpr": "'' + datum.value", "tickSize": 3.5, "title": ["Fz", "µV"], "titleAngle": 0, "titleAlign": "left", "titleBaseline": "top", "titleX": -14, "titleY": 2, "titleFont": "Liberation Sans", "titleFontSize": 8.5, "titleFontWeight": "normal", "titleLineHeight": 9, "titleColor": "#222222"}},
"color": {"field": "g", "type": "nominal", "scale": {"domain": ["m", "h", "l"], "range": ["#2323ff", "#7d1212", "#ff2020"]}, "legend": {"orient": "none", "legendX": 0, "legendY": 751, "direction": "vertical", "title": null, "symbolType": "stroke", "symbolSize": 576, "symbolStrokeWidth": 1.5, "labelFont": "Liberation Serif", "labelFontSize": 24, "labelColor": "#000000", "labelOffset": 4, "rowPadding": 3.5, "labelLimit": 800, "labelExpr": "datum.label == 'm' ? 'monolingual German' : datum.label == 'h' ? 'bilingual Italian-German; high German/low Italian input' : 'bilingual Italian-German; low German/high Italian input'"}}
}}
]},
{"title": "German-like Long Lag 92 ms VOT", "width": 327, "height": 328, "resolve": {"axis": {"x": "independent", "y": "independent"}}, "layer": [
{"data": {"values": [{}]}, "mark": {"type": "rect", "color": "#b0b0b0", "opacity": 0.1}, "encoding": {"x": {"datum": 353, "type": "quantitative", "axis": {"orient": "bottom", "offset": -14.5, "zindex": 1, "values": [-180,-160,-140,-120,-80,-60,-40,-20,20,40,60,80,120,140,160,180,220,240,260,280,320,340,360,380,420,440,460,480,520,540,560,580,620,640,660,680,720,740,760,780,820,840,860,880], "labels": false, "tickSize": 2, "title": null}}, "x2": {"datum": 521}}},
{"data": {"values": [{}]}, "mark": {"type": "rule", "color": "#bbbbbb", "strokeDash": [1, 2], "strokeWidth": 1}, "encoding": {"x": {"datum": 0, "type": "quantitative", "axis": null}, "y": {"datum": -10, "type": "quantitative", "axis": null}, "y2": {"datum": 9.8}}},
{"data": {"values": [{}]}, "mark": {"type": "rule", "color": "#666666", "strokeDash": [1, 1.5], "strokeWidth": 1}, "encoding": {"x": {"datum": -200, "type": "quantitative", "axis": null}, "x2": {"datum": 896}, "y": {"datum": 0, "type": "quantitative", "axis": null}}},
{"data": {"values": [{}]}, "mark": {"type": "rule", "color": "#444444", "strokeWidth": 1}, "encoding": {"x": {"datum": -200, "type": "quantitative", "axis": null}, "y": {"datum": -10, "type": "quantitative", "axis": {"orient": "left", "offset": -15.4, "zindex": 1, "values": [-9,-7,-5,-3,-1,1,3,5,7,9], "labels": false, "tickSize": 2, "title": null}}, "y2": {"datum": 9.8}}},
{"data": {"values": [{}]}, "mark": {"type": "rule", "color": "#444444", "strokeWidth": 1}, "encoding": {"x": {"datum": -200, "type": "quantitative", "axis": null}, "x2": {"datum": 896}, "y": {"datum": -10, "type": "quantitative", "axis": null}}},
{"transform": [{"filter": "datum.p == 2"}], "mark": {"type": "line", "strokeWidth": 1.7, "interpolate": "monotone"}, "encoding": {
"x": {"field": "t", "type": "quantitative", "scale": {"domain": [-254, 896], "nice": false, "zero": false}, "axis": {"orient": "bottom", "offset": -14.5, "zindex": 1, "values": [-200,-100,0,100,200,300,400,500,600,700,800], "labelExpr": "'' + datum.value", "tickSize": 3.5, "title": "ms", "titleX": 327, "titleY": 5, "titleAlign": "right", "titleBaseline": "top", "titleFont": "Liberation Sans", "titleFontSize": 8.5, "titleFontWeight": "normal", "titleColor": "#333333"}},
"y": {"field": "v", "type": "quantitative", "scale": {"domain": [-10.95, 10.49], "nice": false, "zero": false}, "axis": {"orient": "left", "offset": -15.4, "zindex": 1, "values": [-10,-8,-6,-4,-2,0,2,4,6,8], "labelExpr": "'' + datum.value", "tickSize": 3.5, "title": ["Fz", "µV"], "titleAngle": 0, "titleAlign": "left", "titleBaseline": "top", "titleX": -14, "titleY": 2, "titleFont": "Liberation Sans", "titleFontSize": 8.5, "titleFontWeight": "normal", "titleLineHeight": 9, "titleColor": "#222222"}},
"color": {"field": "g", "type": "nominal", "scale": {"domain": ["m", "h", "l"], "range": ["#2323ff", "#7d1212", "#ff2020"]}, "legend": {"orient": "none", "legendX": 0, "legendY": 751, "direction": "vertical", "title": null, "symbolType": "stroke", "symbolSize": 576, "symbolStrokeWidth": 1.5, "labelFont": "Liberation Serif", "labelFontSize": 24, "labelColor": "#000000", "labelOffset": 4, "rowPadding": 3.5, "labelLimit": 800, "labelExpr": "datum.label == 'm' ? 'monolingual German' : datum.label == 'h' ? 'bilingual Italian-German; high German/low Italian input' : 'bilingual Italian-German; low German/high Italian input'"}}
}}
]}
]},
{"spacing": 76, "hconcat": [
{"title": "Italian-like Voicing Lead -36 ms VOT", "width": 327, "height": 328, "resolve": {"axis": {"x": "independent", "y": "independent"}}, "layer": [
{"data": {"values": [{}]}, "mark": {"type": "rect", "color": "#b0b0b0", "opacity": 0.1}, "encoding": {"x": {"datum": 358, "type": "quantitative", "axis": {"orient": "bottom", "offset": -11, "zindex": 1, "values": [-180,-160,-140,-120,-80,-60,-40,-20,20,40,60,80,120,140,160,180,220,240,260,280,320,340,360,380,420,440,460,480,520,540,560,580,620,640,660,680,720,740,760,780,820,840,860,880], "labels": false, "tickSize": 2, "title": null}}, "x2": {"datum": 525}}},
{"data": {"values": [{}]}, "mark": {"type": "rule", "color": "#bbbbbb", "strokeDash": [1, 2], "strokeWidth": 1}, "encoding": {"x": {"datum": 0, "type": "quantitative", "axis": null}, "y": {"datum": -10, "type": "quantitative", "axis": null}, "y2": {"datum": 9.8}}},
{"data": {"values": [{}]}, "mark": {"type": "rule", "color": "#666666", "strokeDash": [1, 1.5], "strokeWidth": 1}, "encoding": {"x": {"datum": -200, "type": "quantitative", "axis": null}, "x2": {"datum": 896}, "y": {"datum": 0, "type": "quantitative", "axis": null}}},
{"data": {"values": [{}]}, "mark": {"type": "rule", "color": "#444444", "strokeWidth": 1}, "encoding": {"x": {"datum": -200, "type": "quantitative", "axis": null}, "y": {"datum": -10, "type": "quantitative", "axis": {"orient": "left", "offset": -15.4, "zindex": 1, "values": [-9,-7,-5,-3,-1,1,3,5,7,9], "labels": false, "tickSize": 2, "title": null}}, "y2": {"datum": 9.8}}},
{"data": {"values": [{}]}, "mark": {"type": "rule", "color": "#444444", "strokeWidth": 1}, "encoding": {"x": {"datum": -200, "type": "quantitative", "axis": null}, "x2": {"datum": 896}, "y": {"datum": -10, "type": "quantitative", "axis": null}}},
{"transform": [{"filter": "datum.p == 3"}], "mark": {"type": "line", "strokeWidth": 1.7, "interpolate": "monotone"}, "encoding": {
"x": {"field": "t", "type": "quantitative", "scale": {"domain": [-254, 896], "nice": false, "zero": false}, "axis": {"orient": "bottom", "offset": -11, "zindex": 1, "values": [-200,-100,0,100,200,300,400,500,600,700,800], "labelExpr": "'' + datum.value", "tickSize": 3.5, "title": "ms", "titleX": 327, "titleY": 5, "titleAlign": "right", "titleBaseline": "top", "titleFont": "Liberation Sans", "titleFontSize": 8.5, "titleFontWeight": "normal", "titleColor": "#333333"}},
"y": {"field": "v", "type": "quantitative", "scale": {"domain": [-10.72, 10.72], "nice": false, "zero": false}, "axis": {"orient": "left", "offset": -15.4, "zindex": 1, "values": [-10,-8,-6,-4,-2,0,2,4,6,8], "labelExpr": "'' + datum.value", "tickSize": 3.5, "title": ["Fz", "µV"], "titleAngle": 0, "titleAlign": "left", "titleBaseline": "top", "titleX": -14, "titleY": 2, "titleFont": "Liberation Sans", "titleFontSize": 8.5, "titleFontWeight": "normal", "titleLineHeight": 9, "titleColor": "#222222"}},
"color": {"field": "g", "type": "nominal", "scale": {"domain": ["m", "h", "l"], "range": ["#2323ff", "#7d1212", "#ff2020"]}, "legend": {"orient": "none", "legendX": 0, "legendY": 751, "direction": "vertical", "title": null, "symbolType": "stroke", "symbolSize": 576, "symbolStrokeWidth": 1.5, "labelFont": "Liberation Serif", "labelFontSize": 24, "labelColor": "#000000", "labelOffset": 4, "rowPadding": 3.5, "labelLimit": 800, "labelExpr": "datum.label == 'm' ? 'monolingual German' : datum.label == 'h' ? 'bilingual Italian-German; high German/low Italian input' : 'bilingual Italian-German; low German/high Italian input'"}}
}}
]},
{"title": "Italian-like Voicing Lead -112 ms VOT", "width": 327, "height": 328, "resolve": {"axis": {"x": "independent", "y": "independent"}}, "layer": [
{"data": {"values": [{}]}, "mark": {"type": "rect", "color": "#b0b0b0", "opacity": 0.1}, "encoding": {"x": {"datum": 354, "type": "quantitative", "axis": {"orient": "bottom", "offset": -11, "zindex": 1, "values": [-180,-160,-140,-120,-80,-60,-40,-20,20,40,60,80,120,140,160,180,220,240,260,280,320,340,360,380,420,440,460,480,520,540,560,580,620,640,660,680,720,740,760,780,820,840,860,880], "labels": false, "tickSize": 2, "title": null}}, "x2": {"datum": 522}}},
{"data": {"values": [{}]}, "mark": {"type": "rule", "color": "#bbbbbb", "strokeDash": [1, 2], "strokeWidth": 1}, "encoding": {"x": {"datum": 0, "type": "quantitative", "axis": null}, "y": {"datum": -10, "type": "quantitative", "axis": null}, "y2": {"datum": 9.8}}},
{"data": {"values": [{}]}, "mark": {"type": "rule", "color": "#666666", "strokeDash": [1, 1.5], "strokeWidth": 1}, "encoding": {"x": {"datum": -200, "type": "quantitative", "axis": null}, "x2": {"datum": 896}, "y": {"datum": 0, "type": "quantitative", "axis": null}}},
{"data": {"values": [{}]}, "mark": {"type": "rule", "color": "#444444", "strokeWidth": 1}, "encoding": {"x": {"datum": -200, "type": "quantitative", "axis": null}, "y": {"datum": -10, "type": "quantitative", "axis": {"orient": "left", "offset": -15.4, "zindex": 1, "values": [-9,-7,-5,-3,-1,1,3,5,7,9], "labels": false, "tickSize": 2, "title": null}}, "y2": {"datum": 9.8}}},
{"data": {"values": [{}]}, "mark": {"type": "rule", "color": "#444444", "strokeWidth": 1}, "encoding": {"x": {"datum": -200, "type": "quantitative", "axis": null}, "x2": {"datum": 896}, "y": {"datum": -10, "type": "quantitative", "axis": null}}},
{"transform": [{"filter": "datum.p == 4"}], "mark": {"type": "line", "strokeWidth": 1.7, "interpolate": "monotone"}, "encoding": {
"x": {"field": "t", "type": "quantitative", "scale": {"domain": [-254, 896], "nice": false, "zero": false}, "axis": {"orient": "bottom", "offset": -11, "zindex": 1, "values": [-200,-100,0,100,200,300,400,500,600,700,800], "labelExpr": "'' + datum.value", "tickSize": 3.5, "title": "ms", "titleX": 327, "titleY": 5, "titleAlign": "right", "titleBaseline": "top", "titleFont": "Liberation Sans", "titleFontSize": 8.5, "titleFontWeight": "normal", "titleColor": "#333333"}},
"y": {"field": "v", "type": "quantitative", "scale": {"domain": [-10.72, 10.72], "nice": false, "zero": false}, "axis": {"orient": "left", "offset": -15.4, "zindex": 1, "values": [-10,-8,-6,-4,-2,0,2,4,6,8], "labelExpr": "'' + datum.value", "tickSize": 3.5, "title": ["Fz", "µV"], "titleAngle": 0, "titleAlign": "left", "titleBaseline": "top", "titleX": -14, "titleY": 2, "titleFont": "Liberation Sans", "titleFontSize": 8.5, "titleFontWeight": "normal", "titleLineHeight": 9, "titleColor": "#222222"}},
"color": {"field": "g", "type": "nominal", "scale": {"domain": ["m", "h", "l"], "range": ["#2323ff", "#7d1212", "#ff2020"]}, "legend": {"orient": "none", "legendX": 0, "legendY": 751, "direction": "vertical", "title": null, "symbolType": "stroke", "symbolSize": 576, "symbolStrokeWidth": 1.5, "labelFont": "Liberation Serif", "labelFontSize": 24, "labelColor": "#000000", "labelOffset": 4, "rowPadding": 3.5, "labelLimit": 800, "labelExpr": "datum.label == 'm' ? 'monolingual German' : datum.label == 'h' ? 'bilingual Italian-German; high German/low Italian input' : 'bilingual Italian-German; low German/high Italian input'"}}
}}
]}
]}
],
"config": {
"view": {"stroke": "#8a8a8a", "strokeWidth": 1},
"title": {"font": "Liberation Serif", "fontSize": 21.3, "fontWeight": "normal", "color": "#000000", "offset": 8, "anchor": "middle"},
"axis": {"zindex": 1, "domain": false, "grid": false, "labelFont": "Liberation Sans", "labelFontSize": 8, "labelColor": "#333333", "tickColor": "#555555", "tickWidth": 1, "labelPadding": 1, "labelOverlap": false, "labelFlush": false, "labelBound": false}
}
}
